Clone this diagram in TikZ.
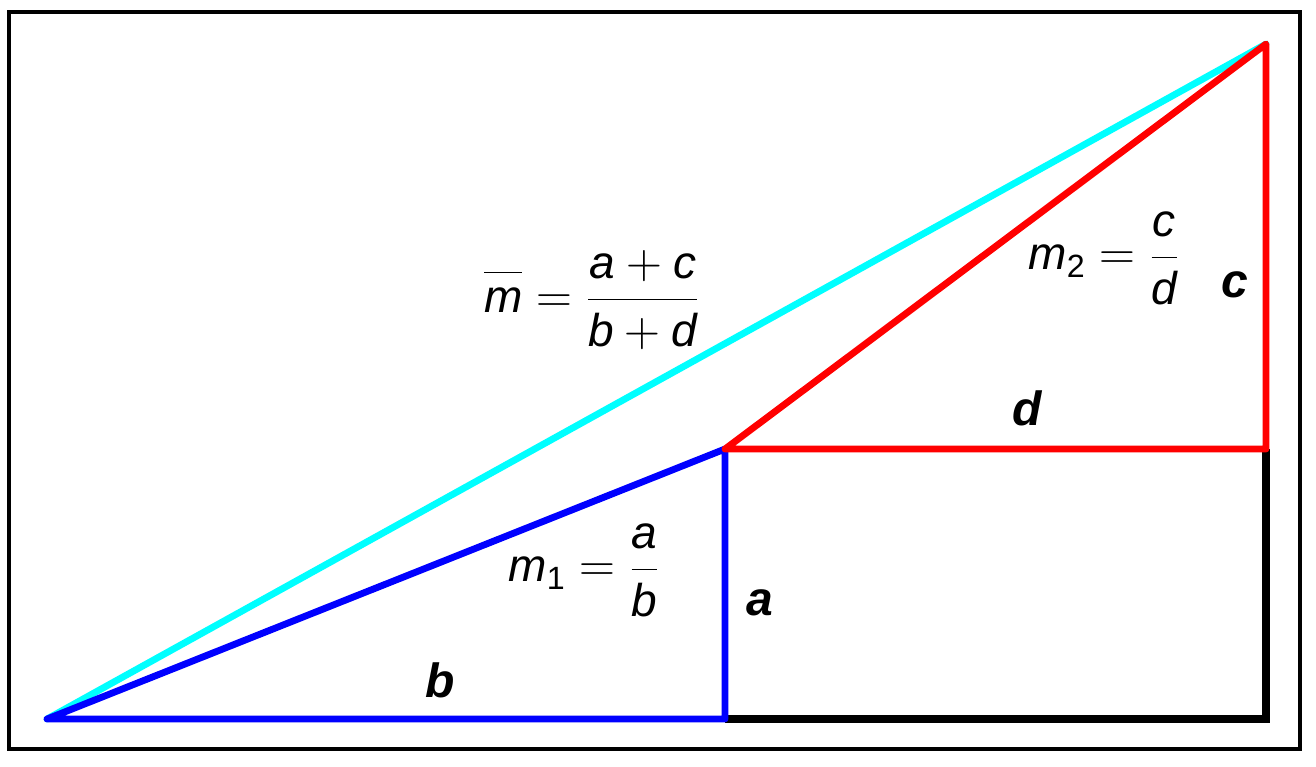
\documentclass[tikz,border=0pt]{standalone}
\usepackage{fontspec}
\setmainfont{Liberation Sans}
\usepackage{xcolor}
\definecolor{skyline}{RGB}{0,255,255}

\tikzset{
  side/.style={line width=3.4pt, line join=round, line cap=round},
  lbl/.style={font=\fontsize{23}{27}\selectfont, inner sep=0pt},
  letter/.style={font=\fontsize{24}{28}\selectfont\bfseries\itshape, inner sep=0pt}
}

\begin{document}
\begin{tikzpicture}[x=0.5pt,y=-0.5pt]
                \useasboundingbox (0,0) rectangle (1316,766);
                \draw[line width=1.6pt] (9,12) rectangle (1300,749);

                \coordinate (A) at (47,719);
                \coordinate (B) at (725,449);
                \coordinate (C) at (725,719);
                \coordinate (D) at (1266,44);
                \coordinate (E) at (1266,449);
                \coordinate (F) at (1266,719);

                \draw[side, skyline] (A) -- (D);
                \draw[side, black, line width=3.6pt, line join=miter, line cap=butt] (C) -- (F) -- (E);
                \draw[side, blue] (A) -- (C) -- (B) -- cycle;
                \draw[side, red] (B) -- (E) -- (D) -- cycle;

                \node[lbl] (mbar) at (592,300) {$\displaystyle\overline{\rule{0pt}{0.8em}\mathit{m}}=\frac{\mathit{a}+\mathit{c}}{\mathit{b}+\mathit{d}}$};
                \node[lbl] (mtwo) at (1104,258) {$\displaystyle\mathit{m}_{\mathrm{2}}=\frac{\mathit{c}}{\mathit{d}}$};
                \node[lbl] (mone) at (584,570) {$\displaystyle\mathit{m}_{\mathrm{1}}=\frac{\mathit{a}}{\mathit{b}}$};

                \node[letter] (la) at (760,603) {a};
                \node[letter] (lb) at (440,680) {b};
                \node[letter] (lc) at (1235,285) {c};
                \node[letter] (ld) at (1027,408) {d};
            \end{tikzpicture}
\end{document}
